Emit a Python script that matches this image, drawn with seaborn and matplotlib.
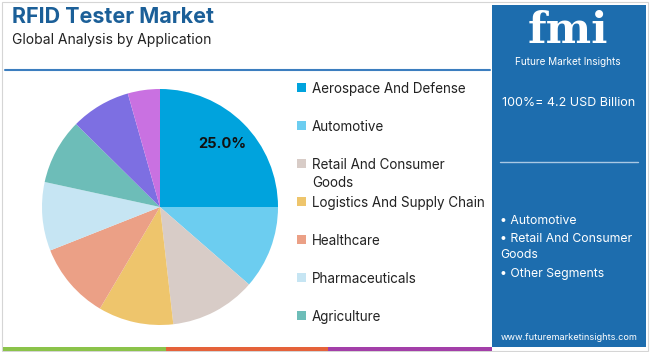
import matplotlib
matplotlib.use('Agg')
import matplotlib.pyplot as plt
from matplotlib.patches import Rectangle
import seaborn as sns

# data
applications = ['Aerospace And Defense', 'Automotive', 'Retail And Consumer\nGoods',
                'Logistics And Supply Chain', 'Healthcare', 'Pharmaceuticals',
                'Agriculture', 'Other 1', 'Other 2']
shares = [25.0, 11.4, 11.8, 10.3, 10.5, 9.4, 9.0, 8.2, 4.4]
n_legend = 7
colors = ['#00A3DD', '#6CCDF0', '#D8CCC7', '#EEC56C', '#EBA086',
          '#C6E5F3', '#6DBDB8', '#7D6FE2', '#C971E1']
market_size = '100%= 4.2 USD Billion'
top_segments = ['• Automotive', '• Retail And Consumer\nGoods', '• Other Segments']

sns.set_theme(style='white')
plt.rcParams['font.family'] = ['Inter', 'DejaVu Sans']

W, H = 650, 352
fig = plt.figure(figsize=(W / 100, H / 100), dpi=100)


def fx(x):
    return x / W


def fy(y):
    return 1 - y / H


# outer frame and bottom colour bar
fig.patches.append(Rectangle((fx(2), fy(351)), fx(646), 349 / H, transform=fig.transFigure,
                             fill=False, edgecolor='#d5d5d5', lw=0.8))
for x0, x1, c in [(3, 166, '#8BC34A'), (166, 328, '#E5623A'), (328, 492, '#A33FA9')]:
    fig.patches.append(Rectangle((fx(x0), fy(351)), fx(x1 - x0), 4 / H,
                                 transform=fig.transFigure, color=c, lw=0))

# title block
fig.text(fx(12), fy(17), 'RFID Tester Market', fontsize=15.5, fontweight='bold',
         color='#1B5F98', va='center')
fig.text(fx(12), fy(40), 'Global Analysis by Application', fontsize=10,
         color='#222222', va='center')
fig.add_artist(plt.Line2D([fx(5), fx(490)], [fy(70), fy(70)], color='#3C7EBF', lw=1.5))

# pie
ax = fig.add_axes([fx(42), fy(325), 236 / W, 236 / H])
pal = sns.color_palette(colors)
wedges, _, autotexts = ax.pie(shares, colors=pal, startangle=90, counterclock=False,
                              autopct=lambda p: f'{p:.1f}%' if p > 20 else '',
                              pctdistance=0.75,
                              wedgeprops=dict(linewidth=0),
                              textprops=dict(fontsize=10.5, fontweight='bold', color='#111111'))
ax.set_xlim(-1, 1)
ax.set_ylim(-1, 1)
ax.set_aspect('equal')
ax.axis('off')

# legend
for i in range(n_legend):
    y = 87 + 38 * i
    fig.patches.append(Rectangle((fx(297), fy(y + 4.5)), 9 / W, 9 / H,
                                 transform=fig.transFigure, color=pal[i], lw=0))
    fig.text(fx(312), fy(y - 5), applications[i], fontsize=9.7, color='#222222',
             va='top', linespacing=1.4)

# right panel
fig.patches.append(Rectangle((fx(492), fy(347)), 154 / W, 342 / H,
                             transform=fig.transFigure, color='#1D6DAE', lw=0))
fig.text(fx(568), fy(31), 'fmi', fontsize=31, fontweight='bold', color='white',
         ha='center', va='center', family='DejaVu Serif')
fig.text(fx(568), fy(62), 'Future Market Insights', fontsize=7.2, color='white',
         ha='center', va='center')
fig.text(fx(502), fy(103), market_size, fontsize=9, color='white', va='center')
fig.add_artist(plt.Line2D([fx(500), fx(638)], [fy(162), fy(162)], color='#A9C8E4', lw=1))
y = 219
for seg in top_segments:
    fig.text(fx(500), fy(y - 4), seg, fontsize=8.8, color='white', va='top',
             linespacing=1.5)
    y += 17.5 * (seg.count('\n') + 1)
fig.text(fx(569), fy(338), 'www.futuremarketinsights.com', fontsize=6.6, color='white',
         ha='center', va='center')

fig.savefig('out.png', dpi=100)
